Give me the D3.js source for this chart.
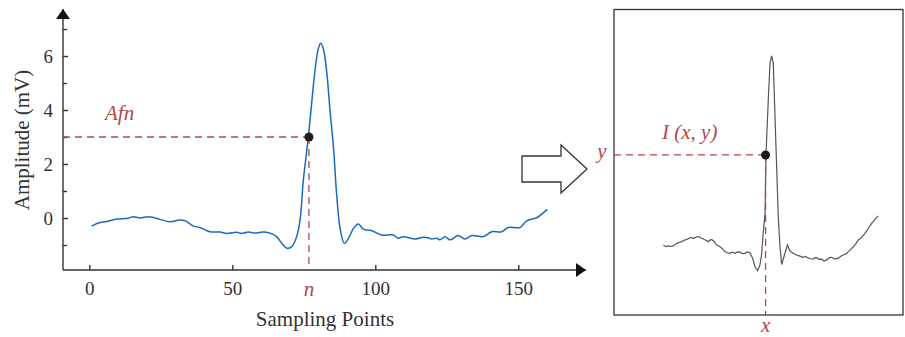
<!DOCTYPE html>
<html>
<head>
<meta charset="utf-8">
<script src="https://cdn.jsdelivr.net/npm/d3@7"></script>
<style>
  body { margin: 0; background: #fff; }
  svg { display: block; font-family: "Liberation Serif", "Times New Roman", serif; }
  .axis path, .axis line { stroke: #333; stroke-width: 1.4; }
  .axis text { fill: #333; font-size: 19px; font-family: "Liberation Serif", serif; }
  .note { fill: #b5474a; font-style: italic; font-size: 21px; }
</style>
</head>
<body>
<svg id="chart" width="905" height="337"></svg>
<script>
// left signal: sampling index and amplitude (mV)
const ecgIndex = [0.8, 3.7, 6.6, 9.6, 13.6, 15.4, 17.7, 20.6, 22.4, 24.7, 28.2, 31.7, 33.5, 36.4, 38.7,
  42.2, 45.7, 48, 51.5, 53.3, 55.6, 57.9, 60.8, 63.2, 65.5, 67.3, 69.1, 70.8, 72.5, 73.7, 74.8,
  76.6, 77.8, 79, 80.1, 80.9, 81.8, 83, 84.2, 85.4, 86.5, 87.7, 89.2, 90.8, 92.4, 94.1, 95.8,
  98.8, 102.2, 106.3, 108, 109.8, 113.9, 116.2, 118.5, 119.7, 121.5, 122.6, 124.4, 126.1, 129,
  131.4, 133.7, 137.8, 140.7, 144.2, 146.5, 150.6, 152.9, 156.4, 160.1];
const ecgAmp = [-0.30, -0.17, -0.12, -0.04, -0.01, 0.05, 0.0, 0.05, 0.02, -0.05, -0.14, -0.07, -0.10, -0.30, -0.35,
  -0.51, -0.52, -0.57, -0.53, -0.57, -0.52, -0.56, -0.52, -0.56, -0.69, -0.94, -1.12, -1.06, -0.69, -0.07, 1.35,
  3.01, 4.31, 5.54, 6.28, 6.47, 6.28, 5.42, 3.94, 2.58, 0.85, -0.38, -0.94, -0.72, -0.38, -0.22, -0.41,
  -0.47, -0.63, -0.63, -0.75, -0.69, -0.78, -0.72, -0.73, -0.78, -0.75, -0.81, -0.69, -0.81, -0.65,
  -0.78, -0.65, -0.69, -0.51, -0.51, -0.35, -0.35, -0.11, 0.01, 0.32];

// right image of the signal (same index, own amplitude)
const imgIndex = [1.0, 3.0, 4.7, 6.5, 8.4, 11.0, 12.8, 14.7, 16.5, 18.4, 20.2, 22.1, 23.3, 24.5, 26.0, 27.5, 29.0,
  30.7, 32.5, 34.4, 36.0, 37.3, 39.0, 40.6, 42.5, 44.3, 45.5, 46.7, 48.5, 50.4, 52.2, 54.1, 56.0, 57.8,
  59.6, 61.5, 63.3, 65.2, 67.2, 68.9, 70.9, 72.6, 73.8, 74.9, 76.4, 77.1, 78.8, 80.1, 81.3, 82.5, 83.8,
  85.0, 86.2, 87.4, 88.7, 90.4, 93.0, 94.9, 97.3, 99.8, 102.2, 104.7, 106.5, 108.2, 110.1, 112.1, 113.5,
  114.9, 116.6, 118.4, 120.1, 122.1, 123.8, 125.8, 128.2, 130.7, 132.5, 134.4, 136.2, 138.1, 140.0,
  141.8, 143.6, 145.5, 147.9, 150.4, 152.9, 155.4, 157.7, 160.1];
const imgAmp = [-0.16, -0.21, -0.19, -0.21, -0.19, -0.10, -0.07, -0.04, 0.01, 0.04, 0.08, 0.11, 0.07, 0.10, 0.14, 0.13, 0.09,
  0.05, 0.01, -0.04, 0.03, 0.02, -0.05, -0.16, -0.20, -0.27, -0.33, -0.39, -0.43, -0.45, -0.41, -0.45, -0.40, -0.41,
  -0.46, -0.45, -0.40, -0.43, -0.62, -0.92, -1.06, -0.86, -0.51, 0.19, 0.96, 3.0, 4.93, 6.23, 6.47, 6.23, 4.34,
  2.59, 0.84, -0.16, -0.84, -0.57, -0.16, -0.37, -0.45, -0.51, -0.55, -0.59, -0.56, -0.61, -0.64, -0.65, -0.60,
  -0.61, -0.66, -0.65, -0.72, -0.68, -0.61, -0.59, -0.65, -0.62, -0.55, -0.51, -0.47, -0.39, -0.31,
  -0.22, -0.12, 0.02, 0.10, 0.25, 0.42, 0.60, 0.72, 0.86];

const xTicks = [0, 50, 100, 150];
const yTicks = [0, 2, 4, 6];
const yMinor = [-1, 1, 3, 5, 7];
const pick = { index: 76.8, amp: 3.0 };

const svg = d3.select('#chart');
const red = '#b5474a';

const x = d3.scaleLinear().domain([0, 150]).range([89.3, 518.3]);
const y = d3.scaleLinear().domain([0, 6]).range([218, 56]);
const xr = d3.scaleLinear().domain([0.8, 160.1]).range([663, 878]);
const yr = d3.scaleLinear().domain([0, 6.47]).range([240.5, 56]);

const axisY = 270, axisX = 63;

// arrow markers
const defs = svg.append('defs');
defs.append('marker').attr('id', 'tipUp')
    .attr('viewBox', '0 0 14 10').attr('refX', 7).attr('refY', 0)
    .attr('markerWidth', 14).attr('markerHeight', 10).attr('markerUnits', 'userSpaceOnUse')
    .attr('orient', 0)
    .append('path').attr('d', 'M0,10L7,0L14,10Z').attr('fill', '#111');
defs.append('marker').attr('id', 'tipRight')
    .attr('viewBox', '0 0 10 14').attr('refX', 10).attr('refY', 7)
    .attr('markerWidth', 10).attr('markerHeight', 14).attr('markerUnits', 'userSpaceOnUse')
    .attr('orient', 0)
    .append('path').attr('d', 'M0,0L10,7L0,14Z').attr('fill', '#111');

// x axis
svg.append('g').attr('class', 'axis')
    .attr('transform', `translate(0,${axisY})`)
    .call(d3.axisBottom(x).tickValues(xTicks).tickSize(-5).tickPadding(12))
    .call(g => g.select('.domain').remove());
svg.append('line')
    .attr('x1', axisX).attr('x2', 586).attr('y1', axisY).attr('y2', axisY)
    .attr('stroke', '#333').attr('stroke-width', 1.4)
    .attr('marker-end', 'url(#tipRight)');

// y axis
svg.append('g').attr('class', 'axis')
    .attr('transform', `translate(${axisX},0)`)
    .call(d3.axisLeft(y).tickValues(yTicks).tickSize(-5).tickPadding(10).tickFormat(d3.format('d')))
    .call(g => g.select('.domain').remove());
svg.append('g').attr('class', 'axis')
    .attr('transform', `translate(${axisX},0)`)
    .call(d3.axisLeft(y).tickValues(yMinor).tickSize(-4).tickFormat(''))
    .call(g => g.select('.domain').remove());
svg.append('line')
    .attr('x1', axisX).attr('x2', axisX).attr('y1', axisY).attr('y2', 9)
    .attr('stroke', '#333').attr('stroke-width', 1.4)
    .attr('marker-end', 'url(#tipUp)');

// axis titles
svg.append('text')
    .attr('x', 325).attr('y', 326)
    .attr('text-anchor', 'middle').attr('font-size', 21).attr('fill', '#333')
    .text('Sampling Points');
svg.append('text')
    .attr('transform', 'translate(29,140) rotate(-90)')
    .attr('text-anchor', 'middle').attr('font-size', 21).attr('fill', '#333')
    .text('Amplitude (mV)');

// left signal
const ecgData = ecgIndex.map((d, i) => [d, ecgAmp[i]]);
svg.append('path')
    .datum(ecgData)
    .attr('fill', 'none').attr('stroke', '#1a6bbd').attr('stroke-width', 1.5)
    .attr('d', d3.line().x(d => x(d[0])).y(d => y(d[1])).curve(d3.curveCatmullRom.alpha(0.5)));

// guide lines to the picked point
svg.append('line')
    .attr('x1', axisX).attr('x2', x(pick.index)).attr('y1', y(pick.amp)).attr('y2', y(pick.amp))
    .attr('stroke', red).attr('stroke-width', 1.3).attr('stroke-dasharray', '7,5');
svg.append('line')
    .attr('x1', x(pick.index)).attr('x2', x(pick.index)).attr('y1', y(pick.amp)).attr('y2', axisY)
    .attr('stroke', red).attr('stroke-width', 1.3).attr('stroke-dasharray', '7,5');
svg.append('circle')
    .attr('cx', x(pick.index)).attr('cy', y(pick.amp)).attr('r', 4.5).attr('fill', '#1c1c1c');
svg.append('text').attr('class', 'note')
    .attr('x', 105).attr('y', 120).text('Afn');
svg.append('text').attr('class', 'note')
    .attr('x', x(pick.index)).attr('y', 296).attr('text-anchor', 'middle').text('n');

// block arrow between panels
const arrowShape = [[522, 156], [561, 156], [561, 145], [587, 169], [561, 193], [561, 182], [522, 182]];
svg.append('path')
    .attr('d', d3.line()(arrowShape) + 'Z')
    .attr('fill', '#fff').attr('stroke', '#333').attr('stroke-width', 1.3);

// right panel
svg.append('rect')
    .attr('x', 614).attr('y', 9.5).attr('width', 289).attr('height', 305.5)
    .attr('fill', 'none').attr('stroke', '#333').attr('stroke-width', 1.3);

const imgData = imgIndex.map((d, i) => [d, imgAmp[i]]);
svg.append('path')
    .datum(imgData)
    .attr('fill', 'none').attr('stroke', '#555').attr('stroke-width', 1.2)
    .attr('d', d3.line().x(d => xr(d[0])).y(d => yr(d[1])));

svg.append('line')
    .attr('x1', 614).attr('x2', xr(pick.index)).attr('y1', yr(pick.amp)).attr('y2', yr(pick.amp))
    .attr('stroke', red).attr('stroke-width', 1.3).attr('stroke-dasharray', '7,5');
svg.append('line')
    .attr('x1', xr(pick.index)).attr('x2', xr(pick.index)).attr('y1', yr(pick.amp)).attr('y2', 315)
    .attr('stroke', red).attr('stroke-width', 1.3).attr('stroke-dasharray', '7,5');
svg.append('circle')
    .attr('cx', xr(pick.index)).attr('cy', yr(pick.amp)).attr('r', 4.5).attr('fill', '#1c1c1c');
svg.append('text').attr('class', 'note')
    .attr('x', 662).attr('y', 139).text('I (x, y)');
svg.append('text').attr('class', 'note')
    .attr('x', 602).attr('y', 158).attr('text-anchor', 'middle').text('y');
svg.append('text').attr('class', 'note')
    .attr('x', xr(pick.index)).attr('y', 332).attr('text-anchor', 'middle').attr('font-size', 20).text('x');
</script>
</body>
</html>
